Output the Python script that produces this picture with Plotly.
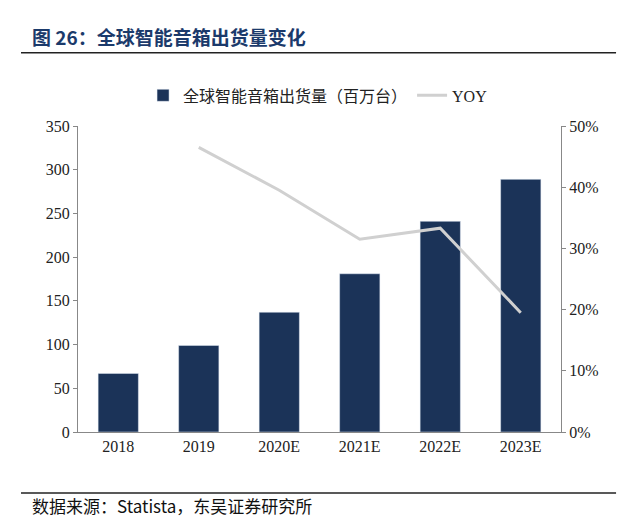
import plotly.graph_objects as go

years = ["2018", "2019", "2020E", "2021E", "2022E", "2023E"]
shipments = [67, 99, 137, 181, 241, 289]
yoy_years = ["2019", "2020E", "2021E", "2022E", "2023E"]
yoy = [0.465, 0.395, 0.315, 0.333, 0.195]

navy = "#1b3358"
fig = go.Figure()
fig.add_trace(go.Bar(x=years, y=shipments, name="全球智能音箱出货量（百万台）",
                     marker_color=navy, width=0.5))
fig.add_trace(go.Scatter(x=yoy_years, y=yoy, name="YOY", yaxis="y2", mode="lines",
                         line=dict(color="#d0d0d0", width=3)))
font = "Noto Sans CJK SC, Liberation Serif, serif"
fig.update_layout(
    width=640, height=532, paper_bgcolor="white", plot_bgcolor="white",
    margin=dict(l=70, r=87, t=118, b=108),
    font=dict(family="Liberation Serif, Noto Sans CJK SC", size=16, color="#222"),
    showlegend=True,
    legend=dict(orientation="h", x=0.497, xanchor="center", y=1.10, yanchor="middle",
                font=dict(size=16)),
    xaxis=dict(showline=True, linecolor="#888", ticks="", showgrid=False),
    yaxis=dict(range=[0, 350], dtick=50, showline=True, linecolor="#888", ticks="outside",
               tickcolor="#888", ticklen=4, showgrid=False),
    yaxis2=dict(range=[0, 0.5], dtick=0.1, tickformat=".0%", overlaying="y", side="right",
                showline=True, linecolor="#888", ticks="outside", tickcolor="#888", ticklen=4,
                showgrid=False),
    annotations=[
        dict(text="<b>图 26：全球智能音箱出货量变化</b>", x=-0.10, y=1.294, xref="paper", yref="paper",
             xanchor="left", yanchor="middle", showarrow=False,
             font=dict(size=19, color="#1b3a6b", family=font)),
        dict(text="数据来源：Statista，东吴证券研究所", x=-0.10, y=-0.24, xref="paper", yref="paper",
             xanchor="left", yanchor="middle", showarrow=False,
             font=dict(size=17, color="#111", family=font)),
    ],
    shapes=[
        dict(type="line", xref="paper", yref="paper", x0=-0.118, x1=1.114, y0=1.239, y1=1.239,
             line=dict(color="#222", width=1.5)),
        dict(type="line", xref="paper", yref="paper", x0=-0.118, x1=1.114, y0=-0.199, y1=-0.199,
             line=dict(color="#222", width=1.5)),
    ],
)
fig.write_html("out.html")
